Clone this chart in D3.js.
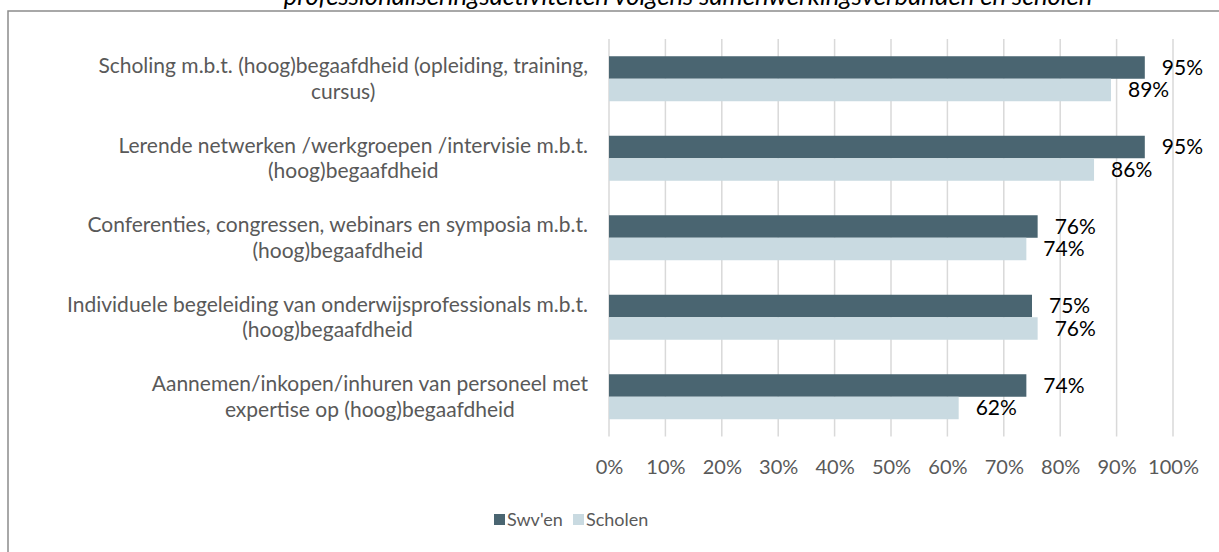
<!DOCTYPE html>
<html>
<head>
<meta charset="utf-8">
<script src="https://cdn.jsdelivr.net/npm/d3@7"></script>
<style>
  html, body { margin: 0; padding: 0; background: #fff; }
  svg { display: block; }
  text { font-family: Lato, "Open Sans", sans-serif; }
</style>
</head>
<body>
<svg id="chart" width="1219" height="552"></svg>
<script>
// ---- data ----
const title = "professionaliseringsactiviteiten volgens samenwerkingsverbanden en scholen";
const categories = [
  ["Scholing m.b.t. (hoog)begaafdheid (opleiding, training,", "cursus)"],
  ["Lerende netwerken /werkgroepen /intervisie m.b.t.", "(hoog)begaafdheid"],
  ["Conferenties, congressen, webinars en symposia m.b.t.", "(hoog)begaafdheid"],
  ["Individuele begeleiding van onderwijsprofessionals m.b.t.", "(hoog)begaafdheid"],
  ["Aannemen/inkopen/inhuren van personeel met", "expertise op (hoog)begaafdheid"]
];
const seriesNames = ["Swv'en", "Scholen"];
const swvValues = [0.95, 0.95, 0.76, 0.75, 0.74];
const scholenValues = [0.89, 0.86, 0.74, 0.76, 0.62];
const tickValues = [0, 0.1, 0.2, 0.3, 0.4, 0.5, 0.6, 0.7, 0.8, 0.9, 1.0];
const colors = ["#4a6571", "#c9dae1"];

// ---- layout ----
const svg = d3.select("#chart");
const plot = { left: 609, right: 1173, top: 39, bottom: 436.5 };
const labelRight = 588;

// chart frame
svg.append("rect")
  .attr("x", 8).attr("y", 11)
  .attr("width", 1300).attr("height", 600)
  .attr("fill", "none").attr("stroke", "#8c8c8c").attr("stroke-width", 1.5);

// title (clipped at top, as in the reference)
svg.append("text")
  .attr("x", 688).attr("y", 5)
  .attr("text-anchor", "middle")
  .attr("font-size", 25.6).attr("font-style", "italic")
  .attr("fill", "#000")
  .text(title);

const x = d3.scaleLinear().domain([0, 1]).range([plot.left, plot.right]);
const y = d3.scaleBand().domain(d3.range(categories.length)).range([plot.top, plot.bottom]).paddingInner(0).paddingOuter(0);
const barH = 22.5;
const sub = d3.scaleBand().domain([0, 1]).range([0, barH * 2]);

// gridlines
svg.append("g").selectAll("line").data(tickValues).join("line")
  .attr("x1", d => x(d)).attr("x2", d => x(d))
  .attr("y1", plot.top).attr("y2", plot.bottom)
  .attr("stroke", "#d9d9d9").attr("stroke-width", 1.5);

// x axis tick labels
const xAxis = d3.axisBottom(x).tickValues(tickValues).tickFormat(d3.format(".0%")).tickSize(0).tickPadding(0);
const gx = svg.append("g").attr("transform", `translate(0, 467)`).call(xAxis);
gx.select(".domain").remove();
gx.selectAll("text")
  .attr("dy", "0.35em").attr("y", 0)
  .attr("font-family", "Lato, 'Open Sans', sans-serif")
  .attr("font-size", 20).attr("fill", "#595959");

// bars
const series = [swvValues, scholenValues];
const offset = (y.bandwidth() - barH * 2) / 2;
series.forEach((vals, si) => {
  const g = svg.append("g");
  g.selectAll("rect").data(vals).join("rect")
    .attr("x", x(0))
    .attr("y", (d, i) => y(i) + offset + sub(si))
    .attr("width", d => x(d) - x(0))
    .attr("height", sub.bandwidth())
    .attr("fill", colors[si]);
  g.selectAll("text").data(vals).join("text")
    .attr("x", d => x(d) + 17)
    .attr("y", (d, i) => y(i) + offset + sub(si) + sub.bandwidth() / 2)
    .attr("dy", "0.35em")
    .attr("font-size", 21).attr("fill", "#000")
    .text(d => d3.format(".0%")(d));
});

// category labels
const catG = svg.append("g");
categories.forEach((lines, i) => {
  const t = catG.append("text")
    .attr("font-size", 21).attr("fill", "#595959")
    .attr("text-anchor", "middle");
  const cy = y(i) + y.bandwidth() / 2;
  const lh = 25.5;
  lines.forEach((ln, li) => {
    t.append("tspan").attr("y", cy + (li - (lines.length - 1) / 2) * lh).attr("dy", "0.35em").text(ln);
  });
  // lines centred on each other, block right-aligned
  let w = 0;
  t.selectAll("tspan").each(function() { w = Math.max(w, this.getComputedTextLength()); });
  t.selectAll("tspan").attr("x", labelRight - w / 2);
});

// legend
const legend = svg.append("g").attr("transform", "translate(0, 520)");
const legendX = [494, 573];
seriesNames.forEach((n, i) => {
  legend.append("rect").attr("x", legendX[i]).attr("y", -6).attr("width", 11).attr("height", 11).attr("fill", colors[i]);
  legend.append("text").attr("x", legendX[i] + 13).attr("y", 0).attr("dy", "0.35em")
    .attr("font-size", 18).attr("fill", "#595959").text(n);
});
</script>
</body>
</html>
